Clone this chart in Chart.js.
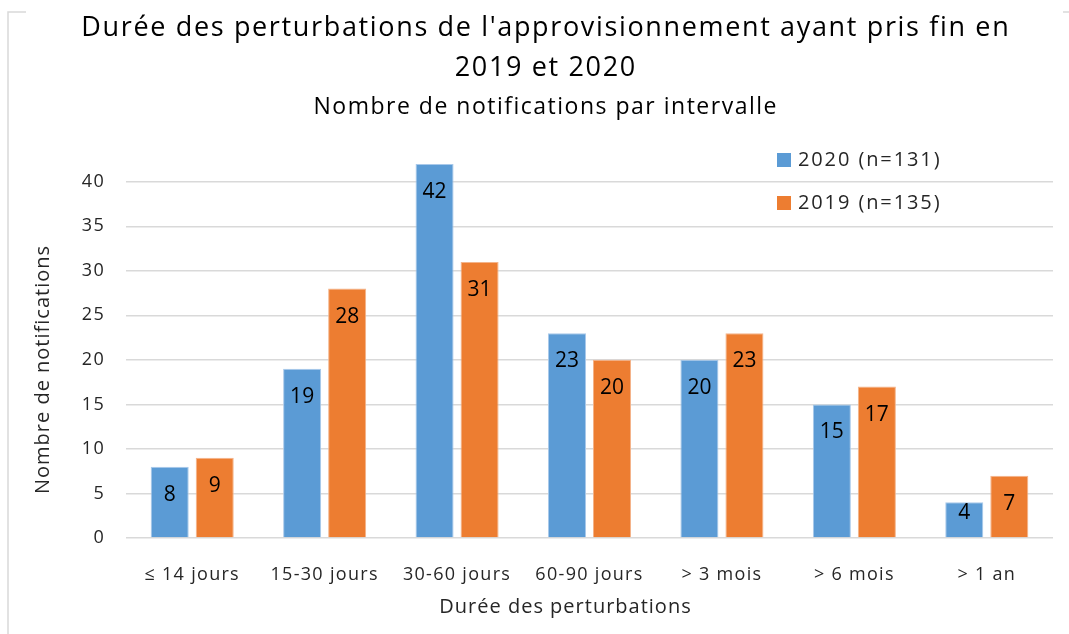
<!DOCTYPE html>
<html>
<head>
<meta charset="utf-8">
<script src="https://cdn.jsdelivr.net/npm/chart.js@4"></script>
<style>
  html, body { margin: 0; padding: 0; background: #fff; }
  #wrap { width: 1069px; height: 634px; position: relative; }
</style>
</head>
<body>
<div id="wrap"><canvas id="chart"></canvas></div>
<script>
// chart data
const categories = ["≤ 14 jours", "15-30 jours", "30-60 jours", "60-90 jours", "> 3 mois", "> 6 mois", "> 1 an"];
const values2020 = [8, 19, 42, 23, 20, 15, 4];
const values2019 = [9, 28, 31, 20, 23, 17, 7];
const seriesLabels = ["2020 (n=131)", "2019 (n=135)"];
const titleLines = ["Durée des perturbations de l'approvisionnement ayant pris fin en", "2019 et 2020"];
const subtitleText = "Nombre de notifications par intervalle";
const xTitle = "Durée des perturbations";
const yTitle = "Nombre de notifications";

const FONT = "'Open Sans', sans-serif";
const BLUE = "#5B9BD5";
const ORANGE = "#ED7D31";

// the source font is wider than Open Sans, so spread the letters a bit
const spacing = {
  id: "spacing",
  beforeLayout(chart) { chart.ctx.letterSpacing = "1.3px"; },
  beforeDraw(chart) { chart.ctx.letterSpacing = "1.3px"; },
};

function text(ctx, str, x, y, size, ls) {
  ctx.font = size + "px " + FONT;
  ctx.letterSpacing = ls + "px";
  ctx.fillText(str, x + ls / 2, y);
}

// titles, axis titles, legend, frame and value labels
const decorations = {
  id: "decorations",
  afterDatasetsDraw(chart) {
    const ctx = chart.ctx;
    ctx.save();

    // partial frame like the source picture
    ctx.strokeStyle = "#d9d9d9";
    ctx.lineWidth = 1.5;
    ctx.beginPath();
    ctx.moveTo(8, 640); ctx.lineTo(8, 12); ctx.lineTo(26, 12);
    ctx.moveTo(1063, 12); ctx.lineTo(1069, 12);
    ctx.stroke();

    ctx.fillStyle = "#000";
    ctx.textAlign = "center";
    ctx.textBaseline = "middle";
    text(ctx, titleLines[0], 545, 28, 27, 1.65);
    text(ctx, titleLines[1], 545, 68, 27, 1.65);
    text(ctx, subtitleText, 545, 107, 23, 1.5);

    ctx.fillStyle = "#262626";
    text(ctx, xTitle, 565, 607, 20, 1);
    ctx.save();
    ctx.translate(43, 370);
    ctx.rotate(-Math.PI / 2);
    text(ctx, yTitle, 0, 0, 20, 1);
    ctx.restore();

    // legend inside the plot
    ctx.textAlign = "left";
    const legendColors = [BLUE, ORANGE];
    const legendY = [160, 203];
    seriesLabels.forEach((label, i) => {
      ctx.fillStyle = legendColors[i];
      ctx.fillRect(777, legendY[i] - 7, 14, 14);
      ctx.fillStyle = "#262626";
      text(ctx, label, 797, legendY[i], 20, 1.9);
    });

    // value labels, inside end of each bar
    ctx.textAlign = "center";
    ctx.fillStyle = "#000";
    chart.data.datasets.forEach((ds, di) => {
      chart.getDatasetMeta(di).data.forEach((bar, i) => {
        const h = bar.base - bar.y;
        const off = Math.min(28, Math.max(11, h - 25));
        text(ctx, String(ds.data[i]), bar.x, bar.y + off, 21, 0);
      });
    });
    ctx.restore();
  }
};

const ctx = document.getElementById("chart").getContext("2d");
new Chart(ctx, {
  type: "bar",
  data: {
    labels: categories,
    datasets: [
      {
        label: seriesLabels[0],
        data: values2020,
        backgroundColor: BLUE,
        borderColor: "#a9c9ea",
        borderWidth: 1,
      },
      {
        label: seriesLabels[1],
        data: values2019,
        backgroundColor: ORANGE,
        borderColor: "#f4b48a",
        borderWidth: 1,
      },
    ],
  },
  options: {
    responsive: true,
    maintainAspectRatio: false,
    animation: false,
    layout: { padding: { top: 155, right: 16, left: 0, bottom: 0 } },
    datasets: {
      bar: { categoryPercentage: 0.68, barPercentage: 0.845 },
    },
    scales: {
      x: {
        grid: { display: false },
        border: { display: false },
        ticks: { color: "#262626", font: { family: FONT, size: 18 }, padding: 18, maxRotation: 0 },
        afterFit: (s) => { s.height = 96; },
      },
      y: {
        min: 0,
        max: 43,
        border: { display: false },
        grid: { color: "#d9d9d9", lineWidth: 1.5, drawTicks: false },
        ticks: { stepSize: 5, color: "#262626", font: { family: FONT, size: 18 }, padding: 21 },
        afterBuildTicks: (s) => { s.ticks = s.ticks.filter((t) => t.value <= 40); },
        afterFit: (s) => { s.width = 126; },
      },
    },
    plugins: {
      legend: { display: false },
      title: { display: false },
      tooltip: { enabled: false },
    },
  },
  plugins: [spacing, decorations],
});
</script>
</body>
</html>
